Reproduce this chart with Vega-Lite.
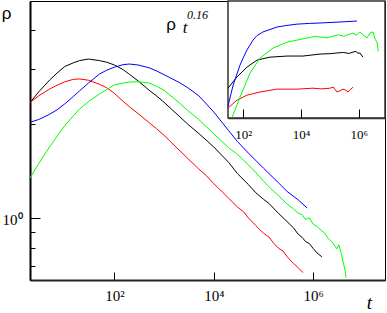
{
  "$schema": "https://vega.github.io/schema/vega-lite/v6.json",
  "width": 355,
  "height": 279,
  "autosize": "none",
  "padding": {"left": 30, "top": 1, "right": 2, "bottom": 33},
  "background": "#ffffff",
  "config": {
    "view": {"stroke": "#000000", "strokeWidth": 1},
    "axis": {"grid": false, "labelFont": "Liberation Serif", "labelColor": "#000000", "tickColor": "#000000", "domainColor": "#000000", "labelOverlap": false, "labelFlush": false}
  },
  "title": {"text": "0.16", "anchor": "start", "frame": "group", "orient": "top", "offset": 0, "dx": 157, "dy": 31, "font": "Liberation Serif", "fontStyle": "italic", "fontWeight": "normal", "fontSize": 12, "baseline": "alphabetic", "color": "#000000"},
  "datasets": {
    "main": [
      {"s": "black", "t": 2, "rho": 2.344}, {"s": "black", "t": 3, "rho": 2.541}, {"s": "black", "t": 5, "rho": 2.773}, {"s": "black", "t": 7, "rho": 2.917}, {"s": "black", "t": 10, "rho": 3.062}, {"s": "black", "t": 15, "rho": 3.148}, {"s": "black", "t": 20, "rho": 3.199}, {"s": "black", "t": 30, "rho": 3.236}, {"s": "black", "t": 50, "rho": 3.199}, {"s": "black", "t": 70, "rho": 3.162}, {"s": "black", "t": 100, "rho": 3.097}, {"s": "black", "t": 150, "rho": 2.992}, {"s": "black", "t": 200, "rho": 2.891}, {"s": "black", "t": 300, "rho": 2.754}, {"s": "black", "t": 500, "rho": 2.57}, {"s": "black", "t": 700, "rho": 2.466}, {"s": "black", "t": 1000, "rho": 2.35}, {"s": "black", "t": 2000, "rho": 2.123}, {"s": "black", "t": 3000, "rho": 2.0}, {"s": "black", "t": 5000, "rho": 1.866}, {"s": "black", "t": 10000, "rho": 1.69}, {"s": "black", "t": 20000, "rho": 1.507}, {"s": "black", "t": 30000, "rho": 1.387}, {"s": "black", "t": 50000, "rho": 1.279}, {"s": "black", "t": 70000, "rho": 1.205}, {"s": "black", "t": 100000, "rho": 1.148}, {"s": "black", "t": 130000, "rho": 1.112}, {"s": "black", "t": 200000, "rho": 1.035}, {"s": "black", "t": 300000, "rho": 0.973}, {"s": "black", "t": 400000, "rho": 0.93}, {"s": "black", "t": 500000, "rho": 0.887}, {"s": "black", "t": 600000, "rho": 0.866}, {"s": "black", "t": 700000, "rho": 0.841}, {"s": "black", "t": 850000, "rho": 0.826}, {"s": "black", "t": 1000000, "rho": 0.798}, {"s": "black", "t": 1200000, "rho": 0.772}, {"s": "black", "t": 1500000, "rho": 0.75},
      {"s": "red", "t": 2, "rho": 2.344}, {"s": "red", "t": 3, "rho": 2.466}, {"s": "red", "t": 5, "rho": 2.594}, {"s": "red", "t": 7, "rho": 2.667}, {"s": "red", "t": 10, "rho": 2.735}, {"s": "red", "t": 15, "rho": 2.786}, {"s": "red", "t": 20, "rho": 2.793}, {"s": "red", "t": 30, "rho": 2.767}, {"s": "red", "t": 50, "rho": 2.685}, {"s": "red", "t": 70, "rho": 2.618}, {"s": "red", "t": 100, "rho": 2.512}, {"s": "red", "t": 150, "rho": 2.366}, {"s": "red", "t": 200, "rho": 2.275}, {"s": "red", "t": 300, "rho": 2.163}, {"s": "red", "t": 500, "rho": 2.023}, {"s": "red", "t": 700, "rho": 1.936}, {"s": "red", "t": 1000, "rho": 1.841}, {"s": "red", "t": 2000, "rho": 1.652}, {"s": "red", "t": 3000, "rho": 1.552}, {"s": "red", "t": 5000, "rho": 1.435}, {"s": "red", "t": 7000, "rho": 1.37}, {"s": "red", "t": 10000, "rho": 1.288}, {"s": "red", "t": 15000, "rho": 1.21}, {"s": "red", "t": 20000, "rho": 1.156}, {"s": "red", "t": 30000, "rho": 1.084}, {"s": "red", "t": 40000, "rho": 1.045}, {"s": "red", "t": 50000, "rho": 1.0}, {"s": "red", "t": 70000, "rho": 0.945}, {"s": "red", "t": 100000, "rho": 0.893}, {"s": "red", "t": 130000, "rho": 0.868}, {"s": "red", "t": 160000, "rho": 0.83}, {"s": "red", "t": 200000, "rho": 0.8}, {"s": "red", "t": 250000, "rho": 0.782}, {"s": "red", "t": 300000, "rho": 0.75}, {"s": "red", "t": 400000, "rho": 0.715}, {"s": "red", "t": 500000, "rho": 0.692}, {"s": "red", "t": 630000, "rho": 0.667},
      {"s": "blue", "t": 2, "rho": 2.028}, {"s": "blue", "t": 3, "rho": 2.07}, {"s": "blue", "t": 5, "rho": 2.153}, {"s": "blue", "t": 7, "rho": 2.223}, {"s": "blue", "t": 10, "rho": 2.323}, {"s": "blue", "t": 15, "rho": 2.455}, {"s": "blue", "t": 20, "rho": 2.559}, {"s": "blue", "t": 30, "rho": 2.71}, {"s": "blue", "t": 50, "rho": 2.897}, {"s": "blue", "t": 70, "rho": 2.979}, {"s": "blue", "t": 100, "rho": 3.048}, {"s": "blue", "t": 150, "rho": 3.105}, {"s": "blue", "t": 200, "rho": 3.119}, {"s": "blue", "t": 300, "rho": 3.097}, {"s": "blue", "t": 500, "rho": 3.034}, {"s": "blue", "t": 700, "rho": 2.965}, {"s": "blue", "t": 1000, "rho": 2.884}, {"s": "blue", "t": 2000, "rho": 2.723}, {"s": "blue", "t": 3000, "rho": 2.618}, {"s": "blue", "t": 5000, "rho": 2.466}, {"s": "blue", "t": 10000, "rho": 2.188}, {"s": "blue", "t": 20000, "rho": 1.905}, {"s": "blue", "t": 30000, "rho": 1.758}, {"s": "blue", "t": 50000, "rho": 1.614}, {"s": "blue", "t": 100000, "rho": 1.445}, {"s": "blue", "t": 200000, "rho": 1.297}, {"s": "blue", "t": 300000, "rho": 1.216}, {"s": "blue", "t": 500000, "rho": 1.143}, {"s": "blue", "t": 760000, "rho": 1.076},
      {"s": "green", "t": 2, "rho": 1.343}, {"s": "green", "t": 3, "rho": 1.496}, {"s": "green", "t": 5, "rho": 1.694}, {"s": "green", "t": 7, "rho": 1.828}, {"s": "green", "t": 10, "rho": 1.977}, {"s": "green", "t": 15, "rho": 2.128}, {"s": "green", "t": 20, "rho": 2.239}, {"s": "green", "t": 30, "rho": 2.36}, {"s": "green", "t": 50, "rho": 2.5}, {"s": "green", "t": 70, "rho": 2.582}, {"s": "green", "t": 100, "rho": 2.673}, {"s": "green", "t": 150, "rho": 2.71}, {"s": "green", "t": 200, "rho": 2.729}, {"s": "green", "t": 300, "rho": 2.735}, {"s": "green", "t": 500, "rho": 2.71}, {"s": "green", "t": 700, "rho": 2.649}, {"s": "green", "t": 1000, "rho": 2.57}, {"s": "green", "t": 2000, "rho": 2.344}, {"s": "green", "t": 3000, "rho": 2.213}, {"s": "green", "t": 5000, "rho": 2.07}, {"s": "green", "t": 10000, "rho": 1.862}, {"s": "green", "t": 20000, "rho": 1.679}, {"s": "green", "t": 30000, "rho": 1.6}, {"s": "green", "t": 50000, "rho": 1.479}, {"s": "green", "t": 70000, "rho": 1.4}, {"s": "green", "t": 100000, "rho": 1.312}, {"s": "green", "t": 150000, "rho": 1.23}, {"s": "green", "t": 200000, "rho": 1.18}, {"s": "green", "t": 300000, "rho": 1.109}, {"s": "green", "t": 400000, "rho": 1.07}, {"s": "green", "t": 500000, "rho": 1.035}, {"s": "green", "t": 600000, "rho": 1.025}, {"s": "green", "t": 700000, "rho": 0.989}, {"s": "green", "t": 850000, "rho": 1.0}, {"s": "green", "t": 1000000, "rho": 0.955}, {"s": "green", "t": 1200000, "rho": 0.94}, {"s": "green", "t": 1400000, "rho": 0.916}, {"s": "green", "t": 1700000, "rho": 0.895}, {"s": "green", "t": 2000000, "rho": 0.861}, {"s": "green", "t": 2500000, "rho": 0.83}, {"s": "green", "t": 3000000, "rho": 0.796}, {"s": "green", "t": 3300000, "rho": 0.82}, {"s": "green", "t": 3700000, "rho": 0.77}, {"s": "green", "t": 4000000, "rho": 0.724}, {"s": "green", "t": 4400000, "rho": 0.68}, {"s": "green", "t": 4600000, "rho": 0.643}
    ],
    "inset": [
      {"s": "black", "t": 30, "v": 5.58}, {"s": "black", "t": 61, "v": 6.08}, {"s": "black", "t": 136, "v": 6.56}, {"s": "black", "t": 301, "v": 6.92}, {"s": "black", "t": 849, "v": 7.08}, {"s": "black", "t": 3280, "v": 7.14}, {"s": "black", "t": 11700, "v": 7.14}, {"s": "black", "t": 45300, "v": 7.25}, {"s": "black", "t": 100000, "v": 7.27}, {"s": "black", "t": 175000, "v": 7.31}, {"s": "black", "t": 300000, "v": 7.34}, {"s": "black", "t": 450000, "v": 7.28}, {"s": "black", "t": 627000, "v": 7.36}, {"s": "black", "t": 800000, "v": 7.4}, {"s": "black", "t": 900000, "v": 7.3}, {"s": "black", "t": 1090000, "v": 7.31}, {"s": "black", "t": 1390000, "v": 7.08},
      {"s": "red", "t": 30, "v": 4.79}, {"s": "red", "t": 61, "v": 5.09}, {"s": "red", "t": 136, "v": 5.29}, {"s": "red", "t": 383, "v": 5.42}, {"s": "red", "t": 1480, "v": 5.54}, {"s": "red", "t": 7280, "v": 5.54}, {"s": "red", "t": 26000, "v": 5.58}, {"s": "red", "t": 50000, "v": 5.55}, {"s": "red", "t": 100000, "v": 5.58}, {"s": "red", "t": 130000, "v": 5.63}, {"s": "red", "t": 175000, "v": 5.42}, {"s": "red", "t": 220000, "v": 5.47}, {"s": "red", "t": 283000, "v": 5.54}, {"s": "red", "t": 350000, "v": 5.5}, {"s": "red", "t": 421000, "v": 5.42}, {"s": "red", "t": 500000, "v": 5.52}, {"s": "red", "t": 627000, "v": 5.62},
      {"s": "blue", "t": 30, "v": 4.86}, {"s": "blue", "t": 45, "v": 5.71}, {"s": "blue", "t": 78, "v": 6.66}, {"s": "blue", "t": 100, "v": 7.03}, {"s": "blue", "t": 136, "v": 7.48}, {"s": "blue", "t": 219, "v": 8.07}, {"s": "blue", "t": 300, "v": 8.35}, {"s": "blue", "t": 486, "v": 8.59}, {"s": "blue", "t": 1480, "v": 8.92}, {"s": "blue", "t": 3000, "v": 9.02}, {"s": "blue", "t": 7280, "v": 9.12}, {"s": "blue", "t": 20000, "v": 9.17}, {"s": "blue", "t": 45300, "v": 9.2}, {"s": "blue", "t": 223000, "v": 9.27}, {"s": "blue", "t": 860000, "v": 9.34},
      {"s": "green", "t": 41, "v": 4.45}, {"s": "green", "t": 78, "v": 5.21}, {"s": "green", "t": 173, "v": 6.27}, {"s": "green", "t": 383, "v": 7.03}, {"s": "green", "t": 1080, "v": 7.59}, {"s": "green", "t": 3280, "v": 7.94}, {"s": "green", "t": 16100, "v": 8.2}, {"s": "green", "t": 30000, "v": 8.3}, {"s": "green", "t": 45300, "v": 8.26}, {"s": "green", "t": 80000, "v": 8.22}, {"s": "green", "t": 128000, "v": 8.32}, {"s": "green", "t": 200000, "v": 8.4}, {"s": "green", "t": 300000, "v": 8.3}, {"s": "green", "t": 388000, "v": 8.39}, {"s": "green", "t": 500000, "v": 8.45}, {"s": "green", "t": 627000, "v": 8.51}, {"s": "green", "t": 800000, "v": 8.38}, {"s": "green", "t": 1090000, "v": 8.59}, {"s": "green", "t": 1500000, "v": 8.35}, {"s": "green", "t": 1910000, "v": 8.2}, {"s": "green", "t": 2500000, "v": 8.55}, {"s": "green", "t": 3080000, "v": 8.59}, {"s": "green", "t": 3700000, "v": 8.1}, {"s": "green", "t": 4230000, "v": 7.94}, {"s": "green", "t": 4700000, "v": 7.41}
    ],
    "frame": [{"t": 30, "t1": 8000000, "v": 4.44, "v1": 10.89}]
  },
  "layer": [
    {
      "data": {"name": "main"},
      "mark": {"type": "line", "strokeWidth": 1, "clip": true},
      "encoding": {
        "x": {"field": "t", "type": "quantitative", "scale": {"type": "log", "domain": [2, 28000000], "nice": false},
          "axis": {"values": [100, 10000, 1000000], "labelExpr": "datum.value == 100 ? '10²' : datum.value == 10000 ? '10⁴' : '10⁶'", "tickSize": -8, "labelPadding": 28, "labelBaseline": "alphabetic", "labelFontSize": 15, "domainWidth": 2, "domainColor": "#222222",
            "title": "t", "titleFont": "Liberation Serif", "titleFontStyle": "italic", "titleFontWeight": "normal", "titleFontSize": 19, "titleX": 339, "titleY": 28, "titleAlign": "center", "titleBaseline": "alphabetic", "titleAngle": 0, "titleColor": "#000000"}},
        "y": {"field": "rho", "type": "quantitative", "scale": {"type": "log", "domain": [0.632, 4.97], "nice": false},
          "axis": {"values": [0.7, 0.8, 0.9, 1, 2, 3, 4], "labelExpr": "datum.value == 1 ? '10⁰' : ''", "tickSize": {"condition": {"test": "datum.value == 1", "value": -10}, "value": -5}, "labelPadding": 18, "labelBaseline": "alphabetic", "labelOffset": 7, "labelFontSize": 15, "domainWidth": 2,
            "title": "ρ", "titleFont": "Liberation Sans", "titleFontWeight": "normal", "titleFontSize": 17, "titleAngle": 0, "titleX": -24, "titleY": 17, "titleAlign": "center", "titleBaseline": "alphabetic", "titleColor": "#000000"}},
        "color": {"field": "s", "type": "nominal", "scale": {"domain": ["black", "red", "blue", "green"], "range": ["#000000", "#ff0000", "#0000ff", "#00ff00"]}, "legend": null}
      }
    },
    {
      "encoding": {
        "x": {"field": "t", "type": "quantitative", "scale": {"type": "log", "domain": [30, 8000000], "range": [198, 355], "nice": false},
          "axis": {"orient": "bottom", "offset": -162, "zindex": 1, "values": [100, 10000, 1000000], "labelExpr": "datum.value == 100 ? '10²' : datum.value == 10000 ? '10⁴' : '10⁶'", "tickSize": -9, "labelPadding": 29.5, "labelBaseline": "alphabetic", "labelFontSize": 13, "domainWidth": 1.5, "domainColor": "#333333",
            "title": "t", "titleFont": "Liberation Serif", "titleFontStyle": "italic", "titleFontWeight": "normal", "titleFontSize": 17, "titleX": 154.5, "titleY": -86, "titleAlign": "center", "titleBaseline": "alphabetic", "titleAngle": 0, "titleColor": "#000000"}},
        "y": {"field": "v", "type": "quantitative", "scale": {"type": "log", "domain": [4.44, 10.89], "range": [117, 0], "nice": false, "zero": false},
          "axis": {"orient": "left", "domain": false, "ticks": false, "labels": false,
            "title": "ρ", "titleFont": "Liberation Sans", "titleFontWeight": "normal", "titleFontSize": 17, "titleAngle": 0, "titleX": 140.5, "titleY": 28.5, "titleAlign": "center", "titleBaseline": "alphabetic", "titleColor": "#000000"}}
      },
      "layer": [
        {
          "data": {"name": "frame"},
          "mark": {"type": "rect", "fill": "#ffffff", "stroke": "#333333", "strokeWidth": 1.5},
          "encoding": {
            "x2": {"field": "t1"},
            "y2": {"field": "v1"}
          }
        },
        {
          "data": {"name": "inset"},
          "mark": {"type": "line", "strokeWidth": 1},
          "encoding": {
            "color": {"field": "s", "type": "nominal", "scale": {"domain": ["black", "red", "blue", "green"], "range": ["#000000", "#ff0000", "#0000ff", "#00ff00"]}, "legend": null}
          }
        }
      ]
    }
  ],
  "resolve": {"scale": {"x": "independent", "y": "independent"}}
}
